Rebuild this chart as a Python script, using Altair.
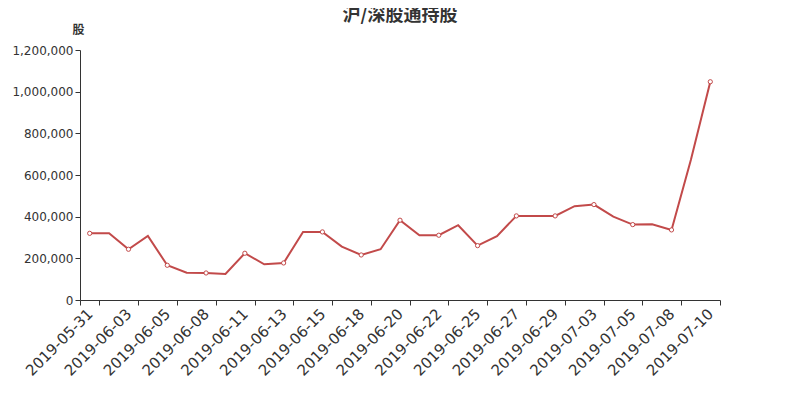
import altair as alt
import pandas as pd

dates = ["2019-05-31", "2019-06-01", "2019-06-03", "2019-06-04", "2019-06-05", "2019-06-06",
         "2019-06-08", "2019-06-10", "2019-06-11", "2019-06-12", "2019-06-13", "2019-06-14",
         "2019-06-15", "2019-06-17", "2019-06-18", "2019-06-19", "2019-06-20", "2019-06-21",
         "2019-06-22", "2019-06-24", "2019-06-25", "2019-06-26", "2019-06-27", "2019-06-28",
         "2019-06-29", "2019-07-02", "2019-07-03", "2019-07-04", "2019-07-05", "2019-07-06",
         "2019-07-08", "2019-07-09", "2019-07-10"]
shares = [320000, 320000, 243600, 307500, 166700, 131000, 129700, 125000, 224400, 171500,
          177800, 326800, 326800, 256100, 216200, 243600, 383000, 310900, 310900, 359000,
          261000, 306100, 403700, 403700, 403700, 450300, 458000, 400300, 361900, 363800,
          336400, 672800, 1047600]
label_dates = dates[::2]

df = pd.DataFrame({"date": dates, "shares": shares})
df["marker"] = [i % 2 == 0 for i in range(len(dates))]

color = "#c24a4a"
xenc = alt.X("date:N", sort=dates, scale=alt.Scale(paddingInner=0, paddingOuter=0),
             axis=alt.Axis(values=label_dates, labelAngle=-45, labelAlign="right",
                           labelBaseline="middle", labelFontSize=15, labelColor="#333333",
                           labelFont="DejaVu Sans", tickBand="extent",
                           labelPadding=6, tickColor="#333333", domainColor="#333333",
                           tickSize=5, labelOverlap=False, grid=False, title=None))
yenc = alt.Y("shares:Q", scale=alt.Scale(domain=[0, 1200000], nice=False),
             axis=alt.Axis(values=[0, 200000, 400000, 600000, 800000, 1000000, 1200000],
                           format=",.0f", labelFontSize=12, labelColor="#333333",
                           labelFont="DejaVu Sans", tickColor="#333333", domainColor="#333333",
                           tickSize=5, grid=False, title="股", titleAngle=0, titleX=-2,
                           titleY=-21, titleAlign="center", titleBaseline="middle",
                           titleFontSize=12, titleFont="Noto Sans CJK SC", titleColor="#333333",
                           titleFontWeight="bold"))

line = alt.Chart(df).mark_line(color=color, strokeWidth=2).encode(x=xenc, y=yenc)
pts = alt.Chart(df).transform_filter("datum.marker").mark_point(
    filled=True, fill="white", stroke=color, strokeWidth=1, size=18, opacity=1
).encode(x=xenc, y=yenc)

chart = alt.layer(line, pts).properties(
    width=640, height=250,
    title=alt.TitleParams("沪/深股通持股", font="Noto Sans CJK SC", fontSize=18,
                          fontWeight="bold", color="#333333", anchor="middle", offset=-2),
    autosize=alt.AutoSizeParams(type="none"),
    padding={"left": 72, "top": 42, "right": 72, "bottom": 100},
).configure_view(stroke=None)

chart.save("out.html", embed_options={"renderer": "svg", "actions": False})
